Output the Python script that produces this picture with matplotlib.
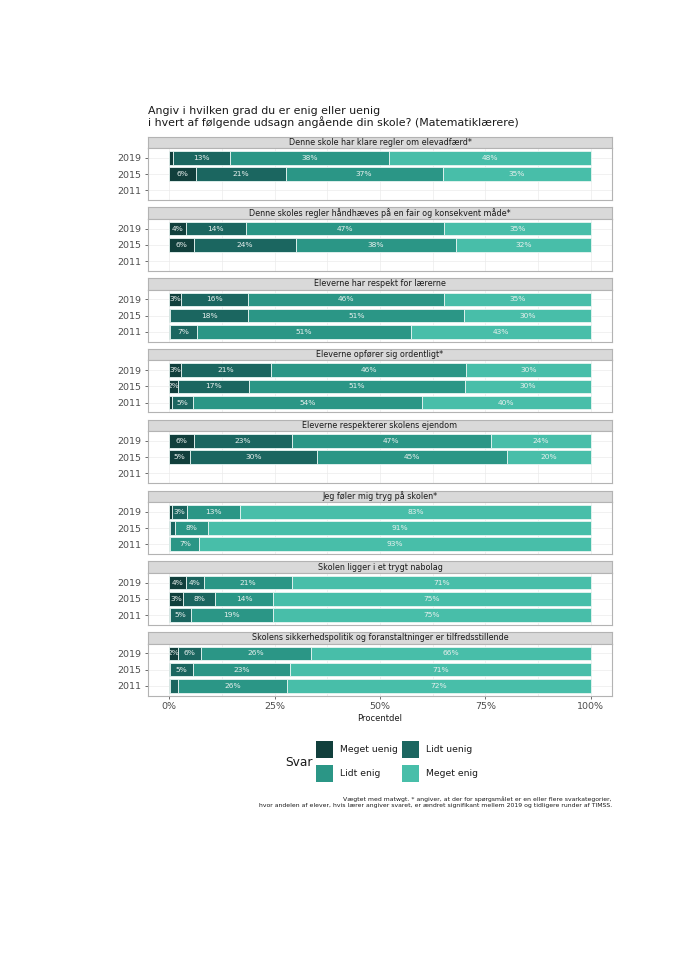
import matplotlib.pyplot as plt
import numpy as np

W, H = 689, 965

title = "Angiv i hvilken grad du er enig eller uenig\ni hvert af følgende udsagn angående din skole? (Matematiklærere)"

statements = [
    "Denne skole har klare regler om elevadfærd*",
    "Denne skoles regler håndhæves på en fair og konsekvent måde*",
    "Eleverne har respekt for lærerne",
    "Eleverne opfører sig ordentligt*",
    "Eleverne respekterer skolens ejendom",
    "Jeg føler mig tryg på skolen*",
    "Skolen ligger i et trygt nabolag",
    "Skolens sikkerhedspolitik og foranstaltninger er tilfredsstillende",
]
years = ["2019", "2015", "2011"]
answers = ["Meget uenig", "Lidt uenig", "Lidt enig", "Meget enig"]
colors = ["#113f3c", "#1b6660", "#2b9686", "#48bea9"]

# shares per statement, per year (2019, 2015, 2011); None = no data
meget_uenig = [[1.0, 6.3, None], [4.0, 6.0, None], [2.8, 0.3, 0.1], [2.8, 2.1, 0.8],
               [5.8, 4.9, None], [0.8, 0.1, 0.0], [3.9, 3.4, 0.2], [2.1, 0.3, 0.1]]
lidt_uenig = [[13.4, 21.3, None], [14.2, 24.0, None], [16.0, 18.5, 6.6], [21.4, 16.9, 4.8],
              [23.3, 30.2, None], [3.4, 1.3, 0.3], [4.3, 7.6, 5.0], [5.5, 5.4, 1.9]]
lidt_enig = [[37.7, 37.3, None], [47.0, 38.0, None], [46.3, 51.2, 50.6], [46.3, 51.1, 54.3],
             [47.1, 45.1, None], [12.6, 7.9, 6.9], [21.0, 13.7, 19.4], [26.0, 23.0, 26.0]]
meget_enig = [[47.9, 35.1, None], [34.8, 32.0, None], [34.9, 30.0, 42.7], [29.5, 29.9, 40.1],
              [23.8, 19.8, None], [83.2, 90.7, 92.8], [70.8, 75.3, 75.4], [66.4, 71.3, 72.0]]

series = [meget_uenig, lidt_uenig, lidt_enig, meget_enig]

fig = plt.figure(figsize=(W / 100, H / 100), dpi=100)

def px_axes(x0, y0, x1, y1):
    return fig.add_axes([x0 / W, 1 - y1 / H, (x1 - x0) / W, (y1 - y0) / H])

fig.text(148 / W, 1 - 106.5 / H, title, fontsize=7.9, va="top", ha="left", color="#1a1a1a",
         linespacing=1.0)

px_left, px_right = 148, 612
top0 = 136.5
step = 70.8
strip_h = 11.5
panel_h = 52

for i, stmt in enumerate(statements):
    st = top0 + i * step
    # strip
    sax = px_axes(px_left, st, px_right, st + strip_h)
    sax.set_facecolor("#d9d9d9")
    sax.set_xticks([])
    sax.set_yticks([])
    for s in sax.spines.values():
        s.set_color("#b3b3b3")
        s.set_linewidth(0.8)
    sax.text(0.5, 0.5, stmt, ha="center", va="center", fontsize=5.8, color="#1a1a1a",
             transform=sax.transAxes)

    ax = px_axes(px_left, st + strip_h, px_right, st + strip_h + panel_h)
    ax.set_xlim(-5, 105)
    ax.set_ylim(3.6, 0.4)
    ax.set_xticks([0, 25, 50, 75, 100])
    ax.set_xticks([12.5, 37.5, 62.5, 87.5], minor=True)
    ax.set_yticks([1, 2, 3])
    ax.set_yticklabels(years, fontsize=6.8, color="#4d4d4d")
    ax.grid(True, which="both", color="#ebebeb", linewidth=0.5)
    ax.set_axisbelow(True)
    ax.tick_params(axis="y", length=2.5, width=0.5, color="#333333", pad=2)
    ax.tick_params(axis="x", which="both", length=0)
    for s in ax.spines.values():
        s.set_color("#b3b3b3")
        s.set_linewidth(0.8)

    for j in range(3):
        left = 0.0
        if meget_uenig[i][j] is None:
            continue
        for k in range(4):
            v = series[k][i][j]
            ax.barh(j + 1, v, left=left, height=0.84, color=colors[k],
                    edgecolor="#e8f5f2", linewidth=0.6)
            if v >= 1.95:
                ax.text(left + v / 2, j + 1, f"{round(v):d}%", ha="center", va="center",
                        fontsize=5.4, color="#e8f0ee")
            left += v

    if i == len(statements) - 1:
        ax.set_xticklabels(["0%", "25%", "50%", "75%", "100%"], fontsize=6.8, color="#4d4d4d")
        ax.tick_params(axis="x", which="major", length=2.5, width=0.5, color="#333333", pad=2)
        ax.set_xlabel("Procentdel", fontsize=6, color="#1a1a1a", labelpad=2)
    else:
        ax.set_xticklabels([])

# legend
fig.text(285 / W, 1 - 762.5 / H, "Svar", fontsize=8.8, va="center", ha="left", color="#1a1a1a")
leg_pos = [(316, 741), (401.5, 741), (316, 765), (401.5, 765)]
for k, ans in enumerate(answers):
    x0, y0 = leg_pos[k]
    lax = px_axes(x0, y0, x0 + 17, y0 + 17)
    lax.set_facecolor(colors[k])
    lax.set_xticks([])
    lax.set_yticks([])
    for s in lax.spines.values():
        s.set_visible(False)
    fig.text((x0 + 24) / W, 1 - (y0 + 8.5) / H, ans, fontsize=6.7, va="center", ha="left",
             color="#1a1a1a")

caption = ("Vægtet med matwgt. * angiver, at der for spørgsmålet er en eller flere svarkategorier,\n"
           "hvor andelen af elever, hvis lærer angiver svaret, er ændret signifikant mellem 2019 og tidligere runder af TIMSS.")
fig.text(612 / W, 1 - 796.5 / H, caption, fontsize=4.4, va="top", ha="right", color="#1a1a1a",
         multialignment="right", linespacing=1.1)

fig.savefig("out.png", dpi=100)
